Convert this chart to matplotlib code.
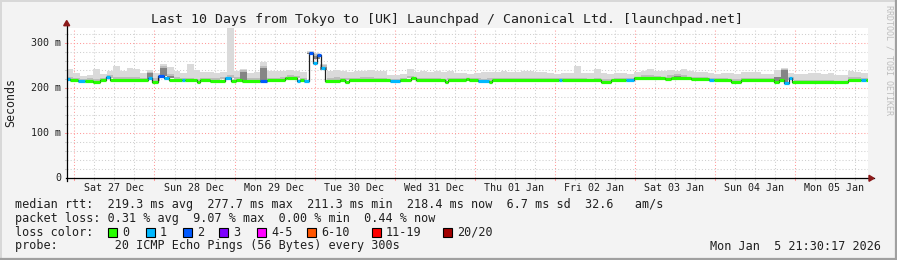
import matplotlib
matplotlib.use("Agg")
import matplotlib.pyplot as plt
from matplotlib.patches import Rectangle, Polygon

plt.rcParams['font.family'] = 'DejaVu Sans Mono'

# ---- data -------------------------------------------------------------
title = "Last 10 Days from Tokyo to [UK] Launchpad / Canonical Ltd. [launchpad.net]"
day_labels = ['Sat 27 Dec', 'Sun 28 Dec', 'Mon 29 Dec', 'Tue 30 Dec', 'Wed 31 Dec',
              'Thu 01 Jan', 'Fri 02 Jan', 'Sat 03 Jan', 'Sun 04 Jan', 'Mon 05 Jan']
first_midnight = 2.3      # hours after the left edge of the graph
span_hours = 240

ytick_vals = [0, 100, 200, 300]
ytick_labels = ['0', '100 m', '200 m', '300 m']

# median rtt: change points (hours from left edge), value in ms, loss level
med_hours = [0, 1.0, 3.4, 5.5, 7.9, 10.0, 11.8, 13.0, 24.4, 25.6, 27.4, 29.2, 30.7,
             34.6, 35.5, 39.1, 40.0, 43.0, 47.5, 49.3, 50.8, 52.6, 58.0, 60.0, 65.5,
             66.1, 69.1, 70.0, 71.2, 72.7, 73.9, 75.1, 76.1, 77.3, 82.0, 83.4, 84.6,
             96.9, 100.0, 103.3, 104.6, 113.4, 114.3, 119.5, 120.5, 123.1, 126.4, 127.3,
             147.4, 148.3, 160.0, 163.0, 167.5, 170.1, 179.4, 181.0, 187.0, 192.4, 193.9,
             199.0, 202.0, 211.9, 213.4, 214.9, 216.4, 217.3, 234.1, 238.0, 239.5]
med_ms = [221, 219, 216, 217, 215, 218, 225, 219, 222, 214, 227, 224, 219,
          219, 218, 214, 219, 217, 222, 217, 219, 217, 216, 219, 222,
          224, 217, 218, 216, 278, 256, 275, 246, 217, 218, 215, 219,
          216, 218, 223, 219, 213, 219, 221, 219, 216, 214, 219,
          219, 219, 215, 218, 219, 223, 220, 224, 220, 218, 219,
          215, 219, 215, 219, 212, 222, 213, 219, 219, 219]
med_loss = [1, 0, 1, 0, 0, 0, 1, 0, 1, 0, 2, 1, 0,
            1, 0, 0, 0, 0, 1, 0, 0, 0, 2, 0, 0,
            0, 1, 0, 1, 2, 1, 2, 1, 0, 0, 0, 0,
            1, 0, 0, 0, 0, 0, 0, 0, 1, 0, 0,
            1, 0, 0, 0, 1, 0, 0, 0, 0, 1, 0,
            0, 0, 0, 0, 1, 1, 0, 0, 1, 0]

# smoke, one value per 2 hour bin (ms)
smoke_lo = [220, 218, 216, 217, 215, 218, 224, 219, 219, 219, 219, 219, 221, 216, 227, 222,
            219, 219, 218, 215, 219, 217, 217, 220, 222, 218, 218, 217, 217, 216, 219, 219,
            220, 224, 223, 216, 278, 265, 240, 217, 218, 216, 219, 219, 219, 219, 218, 218,
            216, 216, 218, 222, 219, 219, 218, 218, 216, 219, 219, 219, 219, 217, 216, 217,
            218, 218, 218, 219, 219, 219, 218, 218, 219, 219, 219, 218, 218, 218, 217, 219,
            215, 216, 218, 218, 219, 221, 223, 223, 223, 221, 223, 224, 223, 220, 220, 220,
            218, 219, 219, 217, 215, 219, 219, 219, 219, 219, 216, 215, 218, 213, 213, 213,
            213, 213, 213, 213, 213, 219, 219, 219]
smoke_mid = [226, 223, 221, 222, 220, 223, 230, 226, 225, 226, 225, 224, 236, 222, 250, 232,
             225, 224, 223, 221, 224, 222, 222, 226, 230, 225, 240, 222, 222, 250, 224, 224,
             226, 229, 228, 222, 280, 276, 252, 223, 224, 222, 224, 224, 225, 225, 223, 223,
             220, 220, 223, 228, 224, 224, 223, 223, 221, 224, 223, 224, 223, 222, 221, 222,
             223, 223, 223, 224, 224, 224, 223, 223, 223, 223, 223, 222, 223, 222, 221, 224,
             220, 221, 222, 222, 223, 226, 229, 229, 228, 226, 230, 232, 230, 226, 225, 225,
             223, 223, 223, 221, 220, 224, 223, 224, 223, 223, 226, 242, 226, 218, 218, 218,
             218, 218, 218, 217, 217, 225, 225, 224]
smoke_hi = [242, 233, 228, 230, 243, 232, 238, 250, 239, 245, 242, 235, 240, 235, 255, 248,
            239, 235, 255, 240, 237, 236, 233, 236, 335, 239, 242, 235, 236, 259, 239, 238,
            239, 240, 239, 237, 282, 279, 255, 239, 240, 238, 237, 238, 239, 240, 238, 239,
            230, 229, 232, 242, 237, 238, 237, 238, 237, 239, 233, 234, 232, 233, 237, 236,
            237, 238, 236, 237, 239, 239, 237, 236, 233, 232, 233, 233, 250, 233, 234, 242,
            233, 232, 234, 233, 232, 236, 239, 243, 239, 238, 240, 239, 242, 238, 237, 236,
            233, 232, 233, 233, 232, 237, 236, 237, 232, 232, 240, 246, 233, 232, 231, 233,
            235, 232, 235, 229, 229, 238, 237, 235]
dark_bins = [12, 14, 15, 26, 29, 36, 37, 38, 91, 106, 107]
dark_top = [234, 246, 228, 236, 246, 276, 272, 248, 228, 226, 240]

loss_labels = ['0', '1', '2', '3', '4-5', '6-10', '11-19', '20/20']
loss_colors = ['#26ff00', '#00b8ff', '#0059ff', '#7e00ff', '#ff00ff', '#ff5500', '#ff0000', '#a10000']

rtt_line = "median rtt:  219.3 ms avg  277.7 ms max  211.3 ms min  218.4 ms now  6.7 ms sd  32.6   am/s"
loss_line = "packet loss: 0.31 % avg  9.07 % max  0.00 % min  0.44 % now"
probe_line = "probe:        20 ICMP Echo Pings (56 Bytes) every 300s"
stamp = "Mon Jan  5 21:30:17 2026"

# ---- layout (pixels) --------------------------------------------------
W, H = 897, 260
PX_L, PX_R, PX_T, PX_B = 66.7, 867.7, 27.7, 178.3
YMAX = (PX_B - PX_T) / 0.45


def fx(x):
    return x / W


def fy(y):
    return 1 - y / H


fig = plt.figure(figsize=(W / 100, H / 100), dpi=100, facecolor='#f3f3f3')
# 3d frame
fig.add_artist(plt.Line2D([0, 1], [fy(0.5), fy(0.5)], color='#d8d8d8', lw=1.4))
fig.add_artist(plt.Line2D([fx(0.5), fx(0.5)], [0, 1], color='#d8d8d8', lw=1.4))
fig.add_artist(plt.Line2D([0, 1], [fy(H - 1), fy(H - 1)], color='#a0a0a0', lw=1.6))
fig.add_artist(plt.Line2D([fx(W - 1), fx(W - 1)], [0, 1], color='#a0a0a0', lw=1.6))

ax = fig.add_axes([fx(PX_L), fy(PX_B), (PX_R - PX_L) / W, (PX_B - PX_T) / H])
ax.set_facecolor('white')
ax.set_xlim(0, span_hours)
ax.set_ylim(0, YMAX)
for s in ax.spines.values():
    s.set_visible(False)
ax.set_xticks([])
ax.set_yticks([])

dot = (0, (1, 2))
# grid
h = first_midnight - 24
while h < span_hours:
    for k in range(4):
        xv = h + k * 6
        if 0 < xv < span_hours:
            col = '#ff9a9a' if k == 0 else '#cfcfcf'
            ax.axvline(xv, color=col, lw=0.75, ls=dot, zorder=1)
            ax.plot([xv, xv], [0, -2 * 2.222], color=col, lw=0.75, clip_on=False, zorder=1)
    h += 24
for v in range(20, 340, 20):
    col = '#ff9a9a' if v % 100 == 0 else '#cfcfcf'
    ax.axhline(v, color=col, lw=0.75, ls=dot, zorder=1)
    ax.plot([0, -2 * 0.3], [v, v], color=col, lw=0.75, clip_on=False, zorder=1)

# smoke
bin_left = [2 * i for i in range(len(smoke_hi))]
ax.bar(bin_left, [hi - lo for hi, lo in zip(smoke_hi, smoke_lo)], bottom=smoke_lo, width=2,
       align='edge', color='#dadada', linewidth=0, zorder=2)
ax.bar(bin_left, [m - lo for m, lo in zip(smoke_mid, smoke_lo)], bottom=smoke_lo, width=2,
       align='edge', color='#bdbdbd', linewidth=0, zorder=3)
ax.bar([bin_left[b] for b in dark_bins], [t - smoke_lo[b] for b, t in zip(dark_bins, dark_top)],
       bottom=[smoke_lo[b] for b in dark_bins], width=2, align='edge', color='#858585',
       linewidth=0, zorder=4)

# median line
xs = med_hours + [span_hours]
ax.step(xs, med_ms + [med_ms[-1]], where='post', color='#202020', lw=0.9, zorder=5)
for i, (v, lvl) in enumerate(zip(med_ms, med_loss)):
    ax.hlines(v, xs[i], xs[i + 1], color=loss_colors[lvl], lw=2.3, zorder=6)

# axes with arrows
ax.plot([-0.4 * 0.3, (873 - PX_L) * 0.3], [0, 0], color='black', lw=0.9, clip_on=False, zorder=7)
ax.plot([0, 0], [-3 / 0.45, (PX_B - 24) / 0.45], color='black', lw=0.9, clip_on=False, zorder=7)
arr = '#8b1a1a'
fig.patches.append(Polygon([(fx(63.7), fy(25.7)), (fx(69.7), fy(25.7)), (fx(66.7), fy(20.5))],
                           closed=True, transform=fig.transFigure, color=arr))
fig.patches.append(Polygon([(fx(869), fy(175.3)), (fx(869), fy(181.3)), (fx(874), fy(178.3))],
                           closed=True, transform=fig.transFigure, color=arr))

# text
fig.text(fx(447), fy(19), title, ha='center', va='center', fontsize=9.55, color='#202020')
fig.text(fx(11), fy(103), 'Seconds', rotation=90, ha='center', va='center', fontsize=8.4,
         color='#202020')
fig.text(fx(889), fy(5), 'RRDTOOL / TOBI OETIKER', rotation=270, ha='center', va='top',
         fontsize=6.0, color='#bdbdbd')
for v, lab in zip(ytick_vals, ytick_labels):
    fig.text(fx(61), fy(PX_B - v * 0.45), lab, ha='right', va='center', fontsize=7.2,
             color='#202020')
for k, lab in enumerate(day_labels):
    xv = first_midnight + 12 + 24 * k
    fig.text(fx(PX_L + xv / 0.3), fy(187.7), lab, ha='center', va='center', fontsize=7.2,
             color='#202020')

lx = 14.6
fig.text(fx(lx), fy(204.3), rtt_line, ha='left', va='center', fontsize=8.5, color='#202020')
fig.text(fx(lx), fy(218.3), loss_line, ha='left', va='center', fontsize=8.5, color='#202020')
fig.text(fx(lx), fy(232.3), 'loss color:', ha='left', va='center', fontsize=8.5, color='#202020')
fig.text(fx(lx), fy(246), probe_line, ha='left', va='center', fontsize=8.5, color='#202020')
fig.text(fx(881), fy(246), stamp, ha='right', va='center', fontsize=8.5, color='#202020')

box_left = [108, 146, 183, 219, 257, 307, 372, 443]
for bx, lab, col in zip(box_left, loss_labels, loss_colors):
    fig.patches.append(Rectangle((fx(bx), fy(236.8)), 9 / W, 9 / H, transform=fig.transFigure,
                                 facecolor=col, edgecolor='black', lw=0.8))
    fig.text(fx(bx + 14), fy(232.3), lab, ha='left', va='center', fontsize=8.5, color='#202020')

fig.savefig('out.png', dpi=100, facecolor=fig.get_facecolor())
